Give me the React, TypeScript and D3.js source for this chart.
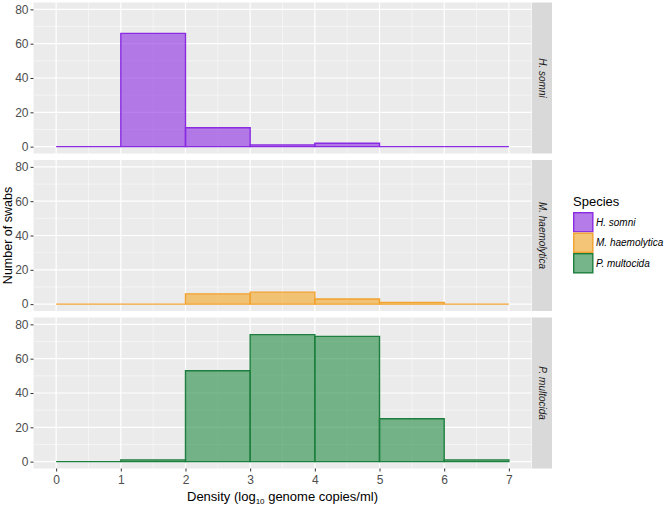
import * as d3 from "d3";
import React, { useRef, useEffect } from "react";

// histogram bins (log10 genome copies/ml) and counts per species
const binEdges = [0, 1, 2, 3, 4, 5, 6, 7];
const species = ["H. somni", "M. haemolytica", "P. multocida"];
const hSomniCounts = [0, 66, 11, 1, 2, 0, 0];
const mHaemolyticaCounts = [0, 0, 6, 7, 3, 1, 0];
const pMultocidaCounts = [0, 1, 53, 74, 73, 25, 1];
const xTicks = [0, 1, 2, 3, 4, 5, 6, 7];
const yTicks = [0, 20, 40, 60, 80];

const strokeColors = ["#8a2be2", "#f2a230", "#1d7f3e"];
const fillColors = ["#8a2be2", "#f5a623", "#238b45"];

const W = 666;
const H = 507;
const FONT = "'Liberation Sans', Arial, Helvetica, sans-serif";

export default function App() {
  const svgRef = useRef<SVGSVGElement | null>(null);

  useEffect(() => {
    const counts = [hSomniCounts, mHaemolyticaCounts, pMultocidaCounts];
    const panelLeft = 33.5;
    const panelRight = 531.5;
    const panelTop = 2.5;
    const panelH = 151;
    const gap = 6.5;
    const stripW = 20;

    const xScale = d3.scaleLinear().domain([-0.35, 7.35]).range([panelLeft, panelRight]);

    const svgEl = d3.select(svgRef.current);
    svgEl.selectAll("*").remove();
    const svg = svgEl.append("g");

    species.forEach((sp, i) => {
      const top = panelTop + i * (panelH + gap);
      const yScale = d3.scaleLinear().domain([-4, 84]).range([top + panelH, top]);
      const g = svg.append("g");

      // panel background
      g.append("rect")
        .attr("x", panelLeft).attr("y", top)
        .attr("width", panelRight - panelLeft).attr("height", panelH)
        .attr("fill", "#ebebeb");

      // minor grid
      d3.range(-0.5, 7.5, 1).forEach((v) => {
        if (v < -0.35) return;
        g.append("line")
          .attr("x1", xScale(v)).attr("x2", xScale(v))
          .attr("y1", top).attr("y2", top + panelH)
          .attr("stroke", "#fafafa").attr("stroke-width", 0.6);
      });
      d3.range(10, 90, 20).forEach((v) => {
        g.append("line")
          .attr("x1", panelLeft).attr("x2", panelRight)
          .attr("y1", yScale(v)).attr("y2", yScale(v))
          .attr("stroke", "#fafafa").attr("stroke-width", 0.6);
      });
      // major grid
      xTicks.forEach((v) => {
        g.append("line")
          .attr("x1", xScale(v)).attr("x2", xScale(v))
          .attr("y1", top).attr("y2", top + panelH)
          .attr("stroke", "#ffffff").attr("stroke-width", 1.2);
      });
      yTicks.forEach((v) => {
        g.append("line")
          .attr("x1", panelLeft).attr("x2", panelRight)
          .attr("y1", yScale(v)).attr("y2", yScale(v))
          .attr("stroke", "#ffffff").attr("stroke-width", 1.2);
      });

      // histogram bars (paths so zero-height bins still show their outline)
      g.selectAll("path.bar")
        .data(counts[i])
        .enter()
        .append("path")
        .attr("class", "bar")
        .attr("d", (c, j) => {
          const x0 = xScale(binEdges[j]);
          const x1 = xScale(binEdges[j + 1]);
          const y0 = yScale(0);
          const y1 = yScale(c);
          return `M${x0},${y0}H${x1}V${y1}H${x0}Z`;
        })
        .attr("fill", fillColors[i])
        .attr("fill-opacity", 0.6)
        .attr("stroke", strokeColors[i])
        .attr("stroke-width", 1.4)
        .attr("stroke-linejoin", "miter");

      // y axis
      const yAxis = d3.axisLeft(yScale).tickValues(yTicks).tickSize(3).tickPadding(2);
      const ya = g.append("g")
        .attr("transform", `translate(${panelLeft},0)`)
        .call(yAxis);
      ya.select(".domain").remove();
      ya.selectAll(".tick line").attr("stroke", "#333333").attr("stroke-width", 1);
      ya.selectAll(".tick text")
        .attr("fill", "#4d4d4d")
        .style("font-family", FONT)
        .style("font-size", "12px");

      // facet strip
      g.append("rect")
        .attr("x", panelRight + 0.5).attr("y", top)
        .attr("width", stripW).attr("height", panelH)
        .attr("fill", "#d9d9d9");
      g.append("text")
        .attr("transform", `translate(${panelRight + 0.5 + stripW / 2},${top + panelH / 2}) rotate(90)`)
        .attr("text-anchor", "middle")
        .attr("dy", "0.35em")
        .attr("fill", "#1a1a1a")
        .style("font-family", FONT)
        .style("font-size", "10px")
        .style("font-style", "italic")
        .text(sp);
    });

    // x axis under last panel
    const bottom = panelTop + 3 * panelH + 2 * gap;
    const xAxis = d3.axisBottom(xScale).tickValues(xTicks).tickSize(3).tickPadding(4);
    const xa = svg.append("g")
      .attr("transform", `translate(0,${bottom})`)
      .call(xAxis);
    xa.select(".domain").remove();
    xa.selectAll(".tick line").attr("stroke", "#333333").attr("stroke-width", 1);
    xa.selectAll(".tick text")
      .attr("fill", "#4d4d4d")
      .style("font-family", FONT)
      .style("font-size", "12px");

    // axis titles
    const xt = svg.append("text")
      .attr("x", (panelLeft + panelRight) / 2)
      .attr("y", 501)
      .attr("text-anchor", "middle")
      .attr("fill", "#000")
      .style("font-family", FONT)
      .style("font-size", "13px");
    xt.append("tspan").text("Density (log");
    xt.append("tspan").attr("dy", 3).style("font-size", "8px").text("10");
    xt.append("tspan").attr("dy", -3).text(" genome copies/ml)");

    svg.append("text")
      .attr("transform", `translate(7.5,${(panelTop + bottom) / 2}) rotate(-90)`)
      .attr("text-anchor", "middle")
      .attr("dy", "0.35em")
      .attr("fill", "#000")
      .style("font-family", FONT)
      .style("font-size", "12.5px")
      .text("Number of swabs");

    // legend
    const lx = 573;
    const ly = 212;
    const key = 20.5;
    svg.append("text")
      .attr("x", lx).attr("y", ly - 6)
      .attr("fill", "#000")
      .style("font-family", FONT)
      .style("font-size", "13px")
      .text("Species");
    species.forEach((sp, i) => {
      const y = ly + i * key;
      svg.append("rect")
        .attr("x", lx).attr("y", y).attr("width", key).attr("height", key)
        .attr("fill", "#f2f2f2");
      svg.append("rect")
        .attr("x", lx + 0.7).attr("y", y + 0.7).attr("width", key - 1.4).attr("height", key - 1.4)
        .attr("fill", fillColors[i]).attr("fill-opacity", 0.6)
        .attr("stroke", strokeColors[i]).attr("stroke-width", 1.4);
      svg.append("text")
        .attr("x", lx + key + 2.5).attr("y", y + key / 2)
        .attr("dy", "0.35em")
        .attr("fill", "#000")
        .style("font-family", FONT)
        .style("font-size", "10px")
        .style("font-style", "italic")
        .text(sp);
    });
  });

  return (
    <svg
      ref={svgRef}
      width={W}
      height={H}
      viewBox={`0 0 ${W} ${H}`}
      style={{ position: "absolute", left: 0, top: 0, background: "#fff" }}
    />
  );
}
